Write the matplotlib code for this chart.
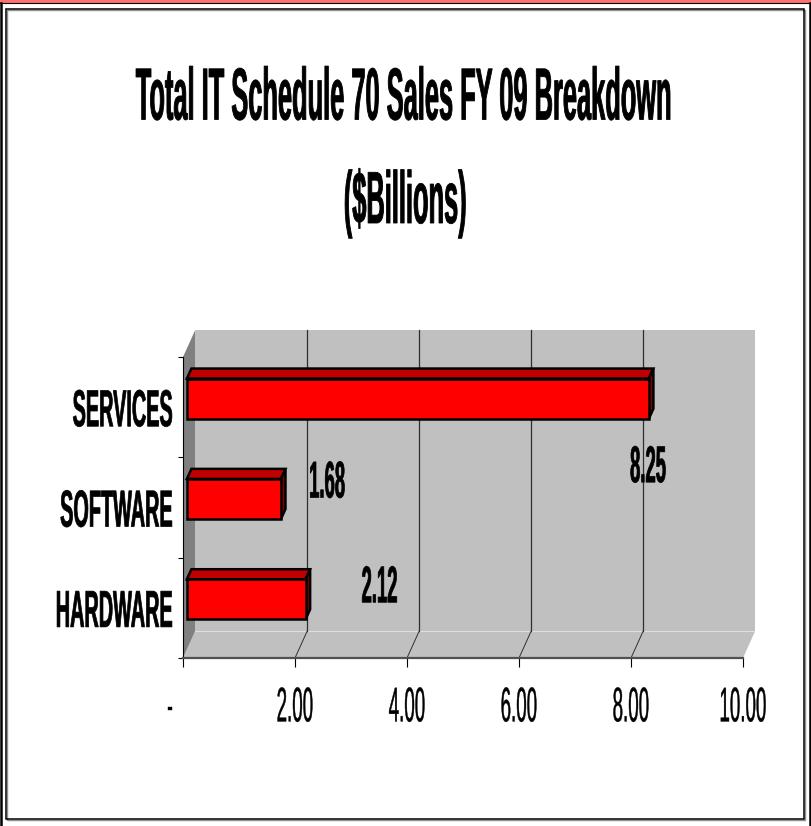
import matplotlib
matplotlib.use("Agg")
import matplotlib.pyplot as plt
from matplotlib import patheffects
from matplotlib.patches import Polygon, Rectangle
from matplotlib.transforms import Affine2D
from matplotlib.lines import Line2D

# datos del grafico
categorias = ["HARDWARE", "SOFTWARE", "SERVICES"]
valores = [2.12, 1.68, 8.25]
etiquetas_valor = ["2.12", "1.68", "8.25"]
ticks_x = [0, 2, 4, 6, 8, 10]
etiquetas_x = ["-     ", "2.00", "4.00", "6.00", "8.00", "10.00"]
titulo_1 = "Total IT Schedule 70 Sales FY 09 Breakdown"
titulo_2 = "($Billions)"

# desplazamiento (en puntos) de cada etiqueta de valor respecto al final de su barra
offsets_etiquetas = [(56, 4), (36, 7.2), (2.2, -54)]

plt.rcParams['font.family'] = ['Liberation Sans Narrow', 'Liberation Sans', 'DejaVu Sans']

ROJO = "#ff0000"
ROJO_TOP = "#c00000"
ROJO_LADO = "#800000"
GRIS_PARED = "#c0c0c0"
GRIS_LADO = "#808080"

# profundidad del efecto 3D en unidades de datos
PROF_X = 12 / 56
PROF_Y = 26.5 / 100.33
ALTO = 0.4
F0, F1 = 0.32, 0.70


class Estirar(patheffects.AbstractPathEffect):
    """Estira el texto en vertical (como el Arial Narrow de Excel) y lo engruesa un poco."""
    def __init__(self, sy=2.2, ha="center", pivote_y=36, grosor=0.0):
        super().__init__()
        self.sy = sy
        self.ha = ha
        self.py = pivote_y
        self.grosor = grosor

    def draw_path(self, renderer, gc, tpath, affine, rgbFace=None):
        if len(tpath.vertices) == 0:
            return
        ext = tpath.get_extents()
        if self.ha == "right":
            px = ext.x1
        elif self.ha == "left":
            px = ext.x0
        else:
            px = (ext.x0 + ext.x1) / 2
        t = Affine2D().translate(-px, -self.py).scale(1, self.sy).translate(px, self.py) + affine
        gc0 = renderer.new_gc()
        gc0.copy_properties(gc)
        if self.grosor > 0 and rgbFace is not None:
            gc0.set_linewidth(self.grosor)
            gc0.set_foreground(rgbFace)
            gc0.set_joinstyle("round")
        renderer.draw_path(gc0, tpath, t, rgbFace)
        gc0.restore()


fig = plt.figure(figsize=(8.11, 8.26), dpi=100)
fig.patch.set_facecolor("white")

# marcos
fig.add_artist(Rectangle((0, 1 - 2.5 / 826), 1, 2.5 / 826, transform=fig.transFigure,
                         facecolor="#ff7070", edgecolor="none"))
fig.add_artist(Line2D([0, 1], [1 - 3 / 826] * 2, transform=fig.transFigure, color="black", lw=0.8))
fig.add_artist(Line2D([1 / 811] * 2, [0, 1 - 3 / 826], transform=fig.transFigure, color="black", lw=1.8))
fig.add_artist(Line2D([809.5 / 811] * 2, [0, 1 - 3 / 826], transform=fig.transFigure, color="black", lw=1.8))
fig.add_artist(Rectangle((7 / 811, 6 / 826), 798 / 811, 810 / 826, transform=fig.transFigure,
                         facecolor="none", edgecolor="#909090", lw=1.0))
fig.add_artist(Rectangle((6 / 811, 7.5 / 826), 798 / 811, 810 / 826, transform=fig.transFigure,
                         facecolor="none", edgecolor="black", lw=1.1))

# titulo
fig.text(403 / 811, (826 - 119.5) / 826, titulo_1, ha="center", va="baseline",
         fontsize=18.3, fontweight="bold", path_effects=[Estirar(2.9, "center", 0, 0.6)])
fig.text(405 / 811, (826 - 223) / 826, titulo_2, ha="center", va="baseline",
         fontsize=18.3, fontweight="bold", path_effects=[Estirar(2.9, "center", 0, 0.6)])

ax = fig.add_axes([183 / 811, 168 / 826, 560 / 811, 301 / 826])
ax.set_xlim(0, 10)
ax.set_ylim(-0.5, 2.5)
ax.patch.set_visible(False)

# paredes y piso
pared = Polygon([(PROF_X, -0.5 + PROF_Y), (10 + PROF_X, -0.5 + PROF_Y),
                 (10 + PROF_X, 2.5 + PROF_Y), (PROF_X, 2.5 + PROF_Y)],
                closed=True, facecolor=GRIS_PARED, edgecolor="none", clip_on=False, zorder=0)
piso = Polygon([(0, -0.5), (10, -0.5), (10 + PROF_X, -0.5 + PROF_Y), (PROF_X, -0.5 + PROF_Y)],
               closed=True, facecolor=GRIS_PARED, edgecolor="none", clip_on=False, zorder=0)
lado = Polygon([(0, -0.5), (PROF_X, -0.5 + PROF_Y), (PROF_X, 2.5 + PROF_Y), (0, 2.5)],
               closed=True, facecolor=GRIS_LADO, edgecolor="none", clip_on=False, zorder=0.5)
for p in (pared, piso, lado):
    ax.add_patch(p)

# lineas de division
for x in ticks_x[1:-1]:
    ax.plot([x + PROF_X, x + PROF_X], [-0.5 + PROF_Y, 2.5 + PROF_Y], color="#303030",
            lw=0.9, clip_on=False, zorder=1)
    ax.plot([x, x + PROF_X], [-0.5, -0.5 + PROF_Y], color="#303030", lw=0.7, clip_on=False, zorder=1)

# barras 3D
for i, v in enumerate(valores):
    y0f = i - ALTO / 2 + F0 * PROF_Y
    y1f = i + ALTO / 2 + F0 * PROF_Y
    y0b = i - ALTO / 2 + F1 * PROF_Y
    y1b = i + ALTO / 2 + F1 * PROF_Y
    xf = F0 * PROF_X
    xb = F1 * PROF_X
    arriba = Polygon([(xf, y1f), (v + xf, y1f), (v + xb, y1b), (xb, y1b)], closed=True,
                     facecolor=ROJO_TOP, edgecolor="black", lw=1.8, joinstyle="miter",
                     clip_on=False, zorder=3)
    costado = Polygon([(v + xf, y0f), (v + xf, y1f), (v + xb, y1b), (v + xb, y0b)], closed=True,
                      facecolor=ROJO_LADO, edgecolor="black", lw=1.8, joinstyle="miter",
                      clip_on=False, zorder=3)
    frente = Rectangle((xf, y0f), v, ALTO, facecolor=ROJO, edgecolor="black", lw=1.8,
                       joinstyle="miter", clip_on=False, zorder=4)
    ax.add_patch(arriba)
    ax.add_patch(costado)
    ax.add_patch(frente)

# etiquetas de valor
for i, v in enumerate(valores):
    ax.annotate(etiquetas_valor[i], xy=(v, i), xytext=offsets_etiquetas[i], textcoords="offset points",
                ha="center", va="baseline", fontsize=13.3, fontweight="bold", zorder=5,
                path_effects=[Estirar(2.8, "center", 0, 0.5)])

# ejes
for s in ("top", "right"):
    ax.spines[s].set_visible(False)
ax.spines["left"].set_color("black")
ax.spines["left"].set_linewidth(0.8)
ax.spines["bottom"].set_color("#505050")
ax.spines["bottom"].set_linewidth(1.6)
ax.spines["left"].set_zorder(2)
ax.spines["bottom"].set_zorder(2)

ax.set_xticks(ticks_x)
ax.set_xticklabels(etiquetas_x)
ax.tick_params(axis="x", which="major", direction="out", length=6.5, width=0.8, color="black",
               pad=22, labelsize=13.5)
ax.set_yticks([-0.5, 0.5, 1.5, 2.5])
ax.set_yticklabels([])
ax.set_yticks(range(len(categorias)), minor=True)
ax.set_yticklabels(categorias, minor=True)
ax.tick_params(axis="y", which="major", direction="out", length=3.6, width=0.8, color="black")
ax.tick_params(axis="y", which="minor", length=0, pad=7.2, labelsize=14.3)

for t in ax.xaxis.get_major_ticks():
    t.label1.set_path_effects([Estirar(2.6, "center", 36, 0.3)])
for t in ax.yaxis.get_minor_ticks():
    t.label1.set_fontweight("bold")
    t.label1.set_path_effects([Estirar(2.62, "right", 36, 0.5)])

fig.savefig("out.png", dpi=100)
